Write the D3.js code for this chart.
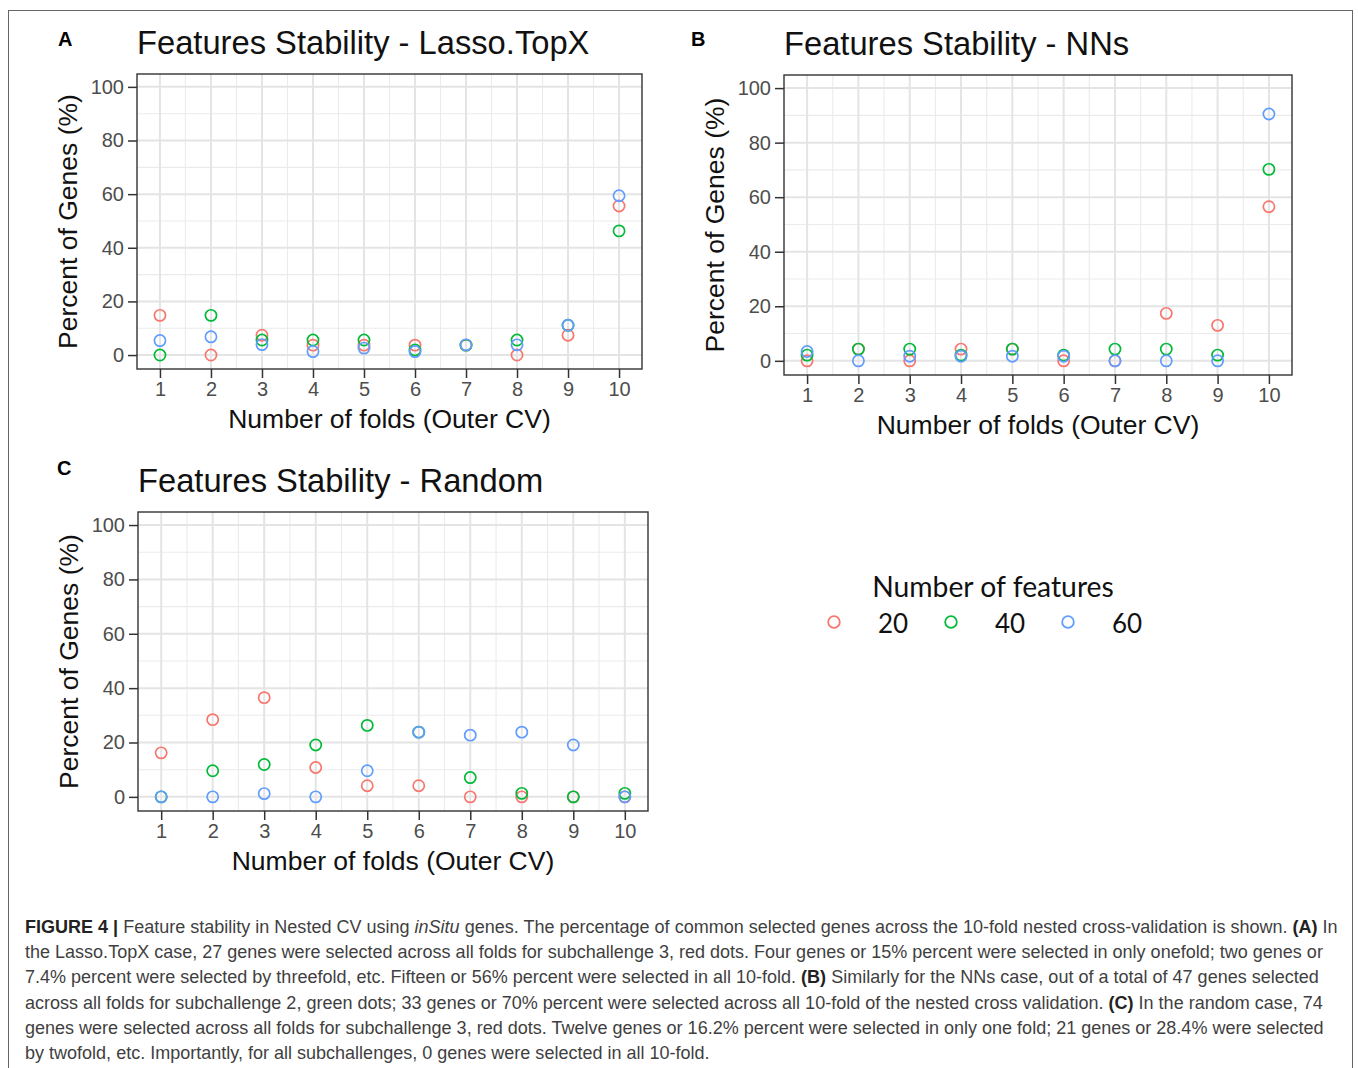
<!DOCTYPE html>
<html>
<head>
<meta charset="utf-8">
<script src="https://cdn.jsdelivr.net/npm/d3@7"></script>
<style>
  body { margin: 0; background: #fff; }
  text { font-family: "Liberation Sans", Arial, Helvetica, sans-serif; }
</style>
</head>
<body>
<script>
// data (percent of genes per number of folds)
let folds = [1, 2, 3, 4, 5, 6, 7, 8, 9, 10]
let featureSets = ["20", "40", "60"]
let setColors = ["#F8766D", "#00BA38", "#619CFF"]
let yTicks = [0, 20, 40, 60, 80, 100]

let lasso20 = [14.8, 0, 7.4, 3.7, 3.7, 3.7, 3.7, 0, 7.4, 55.6]
let lasso40 = [0, 14.8, 5.6, 5.6, 5.6, 1.9, 3.7, 5.6, 11.1, 46.3]
let lasso60 = [5.4, 6.8, 3.9, 1.3, 2.6, 1.3, 3.8, 3.8, 11.1, 59.4]

let nns20 = [0, 4.3, 0, 4.3, 4.3, 0, 0, 17.4, 13.0, 56.5]
let nns40 = [2.1, 4.3, 4.3, 2.1, 4.3, 2.1, 4.3, 4.3, 2.1, 70.2]
let nns60 = [3.4, 0, 1.7, 1.7, 1.7, 1.7, 0, 0, 0, 90.5]

let rand20 = [16.2, 28.4, 36.5, 10.8, 4.1, 4.1, 0, 0, 0, 0]
let rand40 = [0, 9.6, 11.9, 19.1, 26.3, 23.8, 7.1, 1.3, 0, 1.3]
let rand60 = [0, 0, 1.2, 0, 9.6, 23.8, 22.7, 23.8, 19.1, 0]

let captionLines = [
    [["FIGURE 4 | ", "b"], ["Feature stability in Nested CV using ", ""], ["inSitu", "i"], [" genes. The percentage of common selected genes across the 10-fold nested cross-validation is shown. ", ""], ["(A)", "b"], [" In", ""]],
    [["the Lasso.TopX case, 27 genes were selected across all folds for subchallenge 3, red dots. Four genes or 15% percent were selected in only onefold; two genes or", ""]],
    [["7.4% percent were selected by threefold, etc. Fifteen or 56% percent were selected in all 10-fold. ", ""], ["(B)", "b"], [" Similarly for the NNs case, out of a total of 47 genes selected", ""]],
    [["across all folds for subchallenge 2, green dots; 33 genes or 70% percent were selected across all 10-fold of the nested cross validation. ", ""], ["(C)", "b"], [" In the random case, 74", ""]],
    [["genes were selected across all folds for subchallenge 3, red dots. Twelve genes or 16.2% percent were selected in only one fold; 21 genes or 28.4% were selected", ""]],
    [["by twofold, etc. Importantly, for all subchallenges, 0 genes were selected in all 10-fold.", ""]]
]

let W = 1358, H = 1068

let svg = d3.select("body")
    .append("svg")
    .attr("width", W)
    .attr("height", H)

// outer figure frame
svg.append("rect")
    .attr("x", 8.5).attr("y", 10.5)
    .attr("width", 1344).attr("height", 1080)
    .attr("fill", "none")
    .attr("stroke", "#666")
    .attr("stroke-width", 1)

function drawPanel(p) {
    let g = svg.append("g")

    let x = d3.scaleLinear().domain([0.55, 10.45]).range([p.left, p.right])
    let y = d3.scaleLinear().domain([-5.2, 104.8]).range([p.bottom, p.top])

    // minor grid
    let xMinor = d3.range(1.5, 10, 1)
    let yMinor = [10, 30, 50, 70, 90]
    g.selectAll(".xminor").data(xMinor).enter().append("line")
        .attr("x1", d => x(d)).attr("x2", d => x(d))
        .attr("y1", p.top).attr("y2", p.bottom)
        .attr("stroke", "#ebebeb").attr("stroke-width", 1.1)
    g.selectAll(".yminor").data(yMinor).enter().append("line")
        .attr("x1", p.left).attr("x2", p.right)
        .attr("y1", d => y(d)).attr("y2", d => y(d))
        .attr("stroke", "#ebebeb").attr("stroke-width", 1.1)

    // major grid
    g.selectAll(".xmajor").data(folds).enter().append("line")
        .attr("x1", d => x(d)).attr("x2", d => x(d))
        .attr("y1", p.top).attr("y2", p.bottom)
        .attr("stroke", "#e4e4e4").attr("stroke-width", 2)
    g.selectAll(".ymajor").data(yTicks).enter().append("line")
        .attr("x1", p.left).attr("x2", p.right)
        .attr("y1", d => y(d)).attr("y2", d => y(d))
        .attr("stroke", "#e4e4e4").attr("stroke-width", 2)

    // points, one series after another
    p.series.forEach((vals, i) => {
        g.selectAll(".pt" + i).data(vals).enter().append("circle")
            .attr("cx", (d, j) => x(folds[j]))
            .attr("cy", d => y(d))
            .attr("r", 5.6)
            .attr("fill", "none")
            .attr("stroke", setColors[i])
            .attr("stroke-width", 1.7)
    })

    // panel border
    g.append("rect")
        .attr("x", p.left).attr("y", p.top)
        .attr("width", p.right - p.left).attr("height", p.bottom - p.top)
        .attr("fill", "none").attr("stroke", "#333").attr("stroke-width", 1.4)

    // axes
    let xAxis = d3.axisBottom(x).tickValues(folds).tickSize(9).tickPadding(4)
    let yAxis = d3.axisLeft(y).tickValues(yTicks).tickSize(9).tickPadding(4)

    let gx = g.append("g").attr("transform", "translate(0," + p.bottom + ")").call(xAxis)
    let gy = g.append("g").attr("transform", "translate(" + p.left + ",0)").call(yAxis)
    ;[gx, gy].forEach(a => {
        a.select(".domain").remove()
        a.selectAll(".tick line").attr("stroke", "#333").attr("stroke-width", 1.5)
        a.selectAll(".tick text")
            .attr("fill", "#4d4d4d")
            .style("font-size", "20px")
            .style("font-family", "Liberation Sans, Arial, sans-serif")
    })

    // titles
    g.append("text")
        .attr("x", p.left).attr("y", p.top - 20)
        .style("font-size", "32.7px")
        .attr("fill", "#111")
        .text(p.title)

    g.append("text")
        .attr("x", (p.left + p.right) / 2).attr("y", p.bottom + 59)
        .attr("text-anchor", "middle")
        .style("font-size", "26.5px")
        .attr("fill", "#111")
        .text("Number of folds (Outer CV)")

    g.append("text")
        .attr("transform", "translate(" + (p.left - 60) + "," + ((p.top + p.bottom) / 2) + ") rotate(-90)")
        .attr("text-anchor", "middle")
        .style("font-size", "26.5px")
        .attr("fill", "#111")
        .text("Percent of Genes (%)")

    g.append("text")
        .attr("x", p.tagX).attr("y", p.tagY)
        .style("font-size", "20px")
        .style("font-weight", "bold")
        .attr("fill", "#000")
        .text(p.tag)
}

drawPanel({ left: 137, right: 642, top: 74, bottom: 369, title: "Features Stability - Lasso.TopX",
    series: [lasso20, lasso40, lasso60], tag: "A", tagX: 58, tagY: 46 })
drawPanel({ left: 784, right: 1292, top: 75, bottom: 375, title: "Features Stability - NNs",
    series: [nns20, nns40, nns60], tag: "B", tagX: 691, tagY: 46 })
drawPanel({ left: 138, right: 648, top: 512, bottom: 811, title: "Features Stability - Random",
    series: [rand20, rand40, rand60], tag: "C", tagX: 57, tagY: 475 })

// legend
let legend = svg.append("g")
legend.append("text")
    .attr("x", 993).attr("y", 597)
    .attr("text-anchor", "middle")
    .style("font-family", "Lato, 'Open Sans', sans-serif")
    .style("font-size", "28.3px")
    .attr("fill", "#111")
    .text("Number of features")

let keyX = d3.scalePoint().domain(featureSets).range([834, 1068])
let keys = legend.selectAll(".key").data(featureSets).enter().append("g")
keys.append("circle")
    .attr("cx", d => keyX(d)).attr("cy", 622)
    .attr("r", 5.8)
    .attr("fill", "none")
    .attr("stroke", (d, i) => setColors[i])
    .attr("stroke-width", 1.8)
keys.append("text")
    .attr("x", d => keyX(d) + 44).attr("y", 633)
    .style("font-family", "Lato, 'Open Sans', sans-serif")
    .style("font-size", "26px")
    .attr("fill", "#111")
    .text(d => d)

// caption
let cap = svg.append("g")
captionLines.forEach((line, i) => {
    let t = cap.append("text")
        .attr("x", 25)
        .attr("y", 933 + i * 25.2)
        .style("font-size", "17px")
        .attr("fill", "#3f3f3f")
    line.forEach(seg => {
        let s = t.append("tspan").text(seg[0])
        if (seg[1] == "b") s.style("font-weight", "bold").attr("fill", "#222")
        if (seg[1] == "i") s.style("font-style", "italic")
    })
})
// match the printed line width of the first caption line
let firstLen = cap.select("text").node().getComputedTextLength()
let capSize = 17 * 1314 / firstLen
cap.selectAll("text").style("font-size", capSize + "px")
</script>
</body>
</html>
